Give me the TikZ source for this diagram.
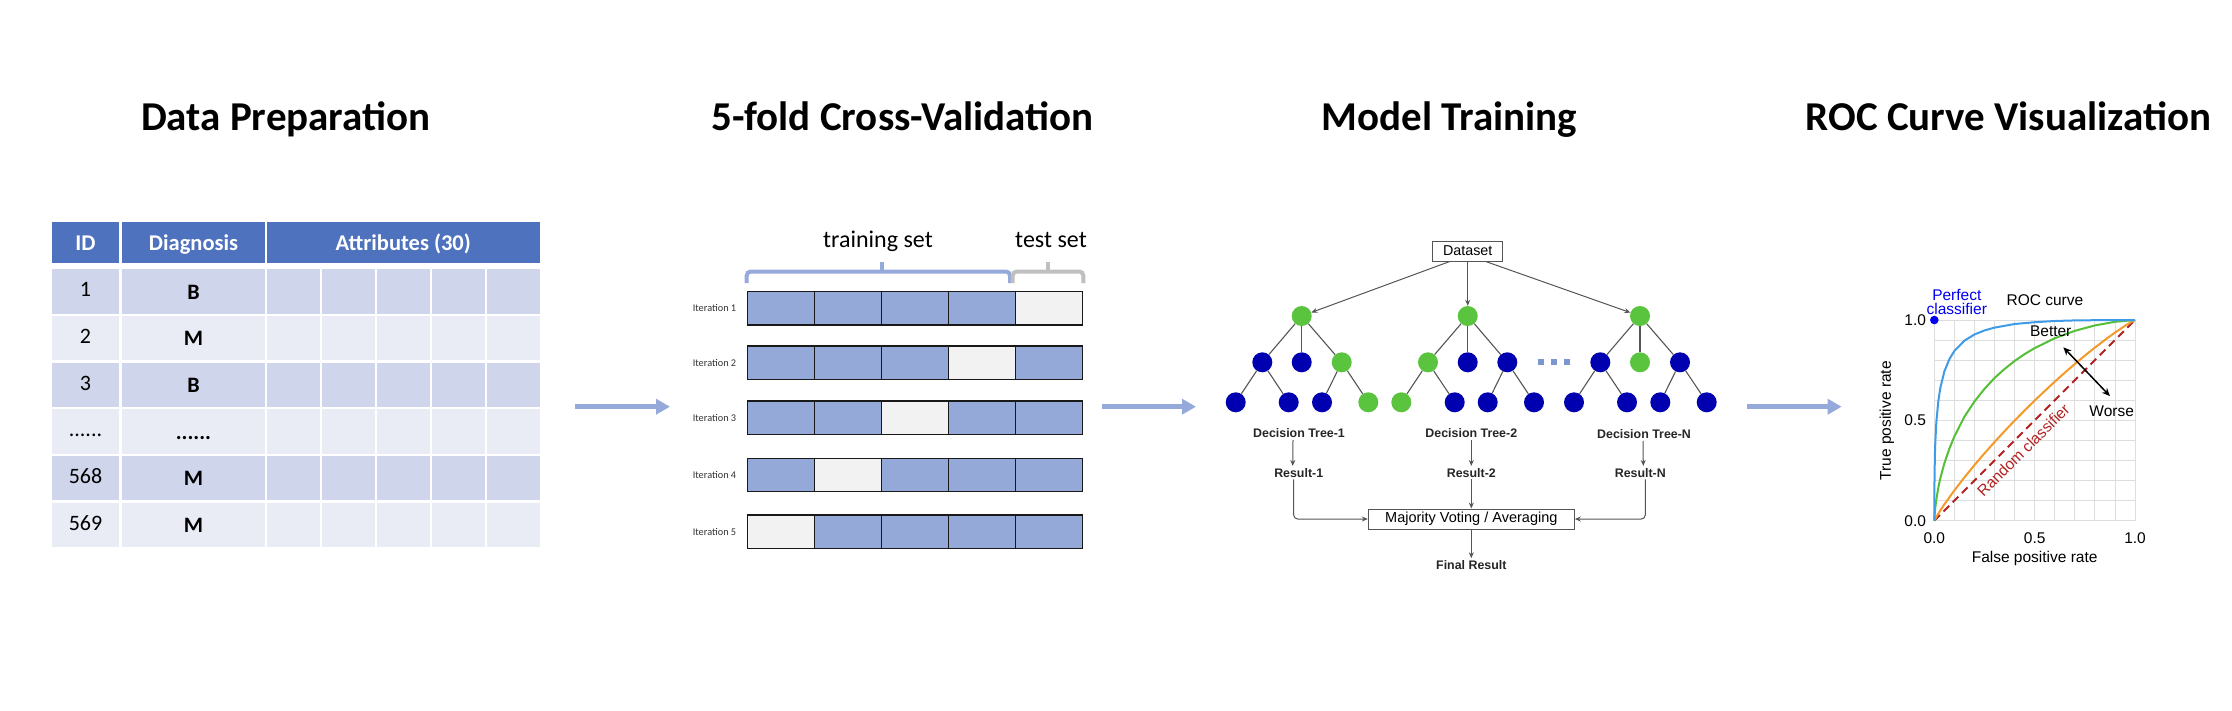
\documentclass[tikz,border=0pt]{standalone}
\usepackage{fontspec}
\setmainfont{Carlito}
\newfontfamily\arialfont{Liberation Sans}
\usetikzlibrary{arrows.meta}
\definecolor{hdrblue}{HTML}{4F72BE}
\definecolor{rowdark}{HTML}{CFD5EA}
\definecolor{rowlight}{HTML}{E9EBF5}
\definecolor{cvblue}{HTML}{95A9D8}
\definecolor{cvgray}{HTML}{F2F2F2}
\definecolor{flowblue}{HTML}{95AADB}
\definecolor{bracegray}{HTML}{BFBFBF}
\definecolor{treegreen}{HTML}{5BC43F}
\definecolor{treeblue}{HTML}{0000B0}
\definecolor{dotblue}{HTML}{7C96CF}
\definecolor{edgegray}{HTML}{555555}
\definecolor{gridgray}{HTML}{DDDDDD}
\definecolor{rocblue}{HTML}{3F9BE8}
\definecolor{rocgreen}{HTML}{55BF38}
\definecolor{rocorange}{HTML}{F39A2B}
\definecolor{rocred}{HTML}{B22222}
\definecolor{perfblue}{HTML}{0000F0}
\newcommand{\sixdots}{......}
\begin{document}
\begin{tikzpicture}[x=1pt,y=-1pt,
  paneltitle/.style={font=\fontsize{41}{48}\selectfont\bfseries, anchor=base, inner sep=0pt},
  hdrtext/.style={font=\fontsize{22.5}{27}\selectfont\bfseries, text=white, anchor=base, inner sep=0pt},
  idtext/.style={font=\fontsize{22}{26}\selectfont, anchor=base, inner sep=0pt},
  dgtext/.style={font=\fontsize{22}{26}\selectfont\bfseries, anchor=base, inner sep=0pt},
  settext/.style={font=\fontsize{24}{28}\selectfont, anchor=base, inner sep=0pt},
  itlabel/.style={font=\fontsize{10.3}{12}\selectfont, text=black!80, inner sep=0pt},
  flowarrow/.style={draw=flowblue, line width=5pt, -{Triangle[length=14pt,width=15pt]}},
  gn/.style={circle, fill=treegreen, minimum size=20pt, inner sep=0pt},
  bn/.style={circle, fill=treeblue, minimum size=20pt, inner sep=0pt},
  treeedge/.style={draw=edgegray, line width=1.1pt},
  conn/.style={draw=edgegray, line width=1pt, -{Stealth[length=6pt,width=5pt]}},
  boxnode/.style={draw=edgegray, line width=1pt, font=\arialfont\fontsize{14.3}{17}\selectfont, inner sep=0pt},
  treelabel/.style={font=\arialfont\fontsize{12.4}{15}\selectfont\bfseries, text=black!85, inner sep=2pt},
  roctext/.style={font=\arialfont\fontsize{15.5}{18}\selectfont, inner sep=0pt},
  dotsq/.style={fill=dotblue, minimum size=6pt, inner sep=0pt}
]
\useasboundingbox (0,0) rectangle (2232,710);
\fill[white] (0,0) rectangle (2232,710);

% ---------- titles ----------
\node[paneltitle] (ttl1) at (285.8,130) {Data Preparation};
\node[paneltitle] (ttl2) at (902.5,130) {5-fold Cross-Validation};
\node[paneltitle] (ttl3) at (1449.5,130) {Model Training};
\node[paneltitle] (ttl4) at (2008.5,130) {ROC Curve Visualization};

% ---------- table ----------
\fill[hdrblue] (51.7,221.7) rectangle (119.3,262.7);
\fill[hdrblue] (121.7,221.7) rectangle (265.3,262.7);
\fill[hdrblue] (266.7,221.7) rectangle (540,262.7);
\node[hdrtext] (hid) at (85.5,250.7) {ID};
\node[hdrtext] (hdg) at (193.5,250.7) {Diagnosis};
\node[hdrtext] (hat) at (403.3,250.7) {Attributes (30)};
\foreach \k/\rc in {0/rowdark,1/rowlight,2/rowdark,3/rowlight,4/rowdark,5/rowlight}{
  \pgfmathsetmacro\rowy{269.3+46.67*\k}
  \fill[\rc] (51.7,\rowy) rectangle (119.3,\rowy+44.3);
  \fill[\rc] (121.7,\rowy) rectangle (265.3,\rowy+44.3);
  \foreach \xa/\xb in {266.7/320,322.3/375,377.3/430,432.3/485,487.3/540}{
    \fill[\rc] (\xa,\rowy) rectangle (\xb,\rowy+44.3);
  }
}
\foreach \k/\idt/\dgt in {0/1/B,1/2/M,2/3/B,3/\sixdots/\sixdots,4/568/M,5/569/M}{
  \node[idtext] (id\k) at (85.5,{296.7+46.67*\k}) {\idt};
  \node[dgtext] (dg\k) at (193.5,{299+46.67*\k}) {\dgt};
}

% ---------- flow arrows ----------
\coordinate (f1s) at (575,406.7);  \coordinate (f1e) at (670,406.7);
\coordinate (f2s) at (1102,406.7); \coordinate (f2e) at (1196,406.7);
\coordinate (f3s) at (1747.3,406.7); \coordinate (f3e) at (1841.7,406.7);
\draw[flowarrow] (f1s) -- (f1e);
\draw[flowarrow] (f2s) -- (f2e);
\draw[flowarrow] (f3s) -- (f3e);

% ---------- cross-validation ----------
\node[settext] (trs) at (878,247.3) {training set};
\node[settext] (tss) at (1051,247.3) {test set};
\draw[flowblue, line width=4pt, rounded corners=4pt] (746.7,283) |- (1010,271.5) -- (1010,283);
\draw[flowblue, line width=4pt] (882.3,272) -- (882.3,261.7);
\draw[bracegray, line width=4pt, rounded corners=4pt] (1012.7,283) |- (1083.3,271.5) -- (1083.3,283);
\draw[bracegray, line width=4pt] (1048.3,272) -- (1048.3,261.7);
\foreach \k/\g/\yy in {1/5/291.7,2/4/346,3/3/401,4/2/458.3,5/1/515}{
  \foreach \c in {1,...,5}{
    \ifnum\c=\g\relax\def\cellcol{cvgray}\else\def\cellcol{cvblue}\fi
    \filldraw[fill=\cellcol, draw=black!90, line width=1.3pt] ({747.7+66.92*(\c-1)},\yy) rectangle ++(66.92,33.3);
  }
  \node[itlabel] (it\k) at (714.5,{\yy+16.65}) {Iteration \k};
}

% ---------- random forest ----------
\node[boxnode, minimum width=70pt, minimum height=20pt] (ds) at (1467.7,251) {Dataset};
% tree 1
\node[gn] (t1) at (1301.7,316) {};
\node[bn] (t1a) at (1262.3,362.3) {};
\node[bn] (t1b) at (1301.7,362.3) {};
\node[gn] (t1c) at (1341.7,362.3) {};
\node[bn] (t1aa) at (1235.7,402.3) {};
\node[bn] (t1ab) at (1288.7,402.3) {};
\node[bn] (t1ca) at (1322,402.3) {};
\node[gn] (t1cb) at (1368.3,402.3) {};
% tree 2
\node[gn] (t2) at (1467.7,316) {};
\node[gn] (t2a) at (1428,362.3) {};
\node[bn] (t2b) at (1467.7,362.3) {};
\node[bn] (t2c) at (1507.3,362.3) {};
\node[gn] (t2aa) at (1401.3,402.3) {};
\node[bn] (t2ab) at (1454.7,402.3) {};
\node[bn] (t2ca) at (1487.7,402.3) {};
\node[bn] (t2cb) at (1534,402.3) {};
% tree N
\node[gn] (tn) at (1640,316) {};
\node[bn] (tna) at (1600.3,362.3) {};
\node[gn] (tnb) at (1640,362.3) {};
\node[bn] (tnc) at (1680,362.3) {};
\node[bn] (tnaa) at (1574,402.3) {};
\node[bn] (tnab) at (1627,402.3) {};
\node[bn] (tnca) at (1660.3,402.3) {};
\node[bn] (tncb) at (1706.7,402.3) {};
\foreach \t in {t1,t2,tn}{
  \draw[treeedge] (\t) -- (\t a);
  \draw[treeedge] (\t) -- (\t b);
  \draw[treeedge] (\t) -- (\t c);
  \draw[treeedge] (\t a) -- (\t aa);
  \draw[treeedge] (\t a) -- (\t ab);
  \draw[treeedge] (\t c) -- (\t ca);
  \draw[treeedge] (\t c) -- (\t cb);
}
\node[dotsq] (dq1) at (1540.7,361.7) {};
\node[dotsq] (dq2) at (1554,361.7) {};
\node[dotsq] (dq3) at (1567.3,361.7) {};
\draw[conn] ([xshift=-18pt]ds.south) -- (t1);
\draw[conn] (ds.south) -- (t2);
\draw[conn] ([xshift=18pt]ds.south) -- (tn);
\node[treelabel] (dt1) at (1299,433.3) {Decision Tree-1};
\node[treelabel] (dt2) at (1471.3,433.3) {Decision Tree-2};
\node[treelabel] (dtn) at (1644,434) {Decision Tree-N};
\node[treelabel] (res1) at (1298.7,472.7) {Result-1};
\node[treelabel] (res2) at (1471.3,472.7) {Result-2};
\node[treelabel] (resn) at (1640.3,472.7) {Result-N};
\node[boxnode, minimum width=206pt, minimum height=20pt, font=\arialfont\fontsize{14.5}{17}\selectfont] (mv) at (1471.3,519) {Majority Voting / Averaging};
\node[treelabel] (final) at (1471.3,565) {Final Result};
\draw[conn] ([xshift=-6pt]dt1.south) -- ([xshift=-6pt]res1.north);
\draw[conn] (dt2.south) -- (res2.north);
\draw[conn] ([xshift=-1pt]dtn.south) -- ([xshift=3pt]resn.north);
\draw[conn, rounded corners=4pt] ([xshift=-5pt]res1.south) |- (mv.west);
\draw[conn] (res2.south) -- (mv.north);
\draw[conn, rounded corners=4pt] ([xshift=5pt]resn.south) |- (mv.east);
\draw[conn] (mv.south) -- (final.north);

% ---------- ROC ----------
\coordinate (roco) at (1934.3,520.7);
\begin{scope}[shift={(roco)}, x={(200.7pt,0pt)}, y={(0pt,200.7pt)}]
  \foreach \i in {0,...,10}{
    \draw[gridgray, line width=0.8pt] (\i/10,0) -- (\i/10,1);
    \draw[gridgray, line width=0.8pt] (0,\i/10) -- (1,\i/10);
  }
  \draw[rocred, line width=2pt, dash pattern=on 8pt off 5pt] (0,0) -- (1,1);
  \draw[rocorange, line width=2pt, line join=round] plot coordinates {(0,0) (0.01,0.0189) (0.02,0.0356) (0.05,0.0815) (0.1,0.1511) (0.15,0.2159) (0.2,0.2771) (0.25,0.3356) (0.3,0.3919) (0.35,0.4462) (0.4,0.4987) (0.45,0.5495) (0.5,0.5987) (0.55,0.6464) (0.6,0.6926) (0.65,0.7374) (0.7,0.7807) (0.75,0.8224) (0.8,0.8625) (0.85,0.9008) (0.9,0.9372) (0.95,0.9710) (0.98,0.9894) (1,1)};
  \draw[rocgreen, line width=2pt, line join=round] plot coordinates {(0,0) (0.001,0.022) (0.005,0.067) (0.01,0.106) (0.02,0.165) (0.03,0.212) (0.05,0.286) (0.075,0.359) (0.1,0.420) (0.15,0.518) (0.2,0.594) (0.25,0.657) (0.3,0.711) (0.35,0.756) (0.4,0.796) (0.45,0.830) (0.5,0.860) (0.6,0.909) (0.7,0.946) (0.8,0.973) (0.9,0.991) (1,1)};
  \draw[rocblue, line width=2pt, line join=round] plot coordinates {(0,0) (0,0.04) (0.0001,0.078) (0.001,0.215) (0.003,0.33) (0.005,0.391) (0.01,0.49) (0.02,0.597) (0.03,0.662) (0.05,0.744) (0.075,0.805) (0.1,0.846) (0.15,0.897) (0.2,0.928) (0.25,0.948) (0.3,0.962) (0.4,0.980) (0.5,0.989) (0.6,0.995) (0.7,0.998) (0.8,0.999) (1,1)};
  \fill[perfblue] (0,1) circle[radius=4.3pt];
  \node[roctext, text=perfblue, align=center, font=\arialfont\fontsize{15.5}{13.5}\selectfont] (perf) at (0.112,1.091) {Perfect\\classifier};
  \node[roctext] (roclbl) at (0.551,1.097) {ROC curve};
  \node[roctext] (better) at (0.58,0.944) {Better};
  \node[roctext] (worse) at (0.884,0.543) {Worse};
  \coordinate (bw1) at (0.643,0.864);
  \coordinate (bw2) at (0.875,0.621);
  \draw[line width=1.5pt, {Stealth[length=8pt,width=7pt]}-{Stealth[length=8pt,width=7pt]}] (bw1) -- (bw2);
  \node[roctext, text=rocred, rotate=45] (rand) at (0.443,0.352) {Random classifier};
  \node[roctext] (y10) at (-0.095,1) {1.0};
  \node[roctext] (y05) at (-0.095,0.5) {0.5};
  \node[roctext] (y00) at (-0.095,0) {0.0};
  \node[roctext] (x00) at (0,-0.088) {0.0};
  \node[roctext] (x05) at (0.5,-0.088) {0.5};
  \node[roctext] (x10) at (1,-0.088) {1.0};
  \node[roctext] (xlab) at (0.5,-0.187) {False positive rate};
  \node[roctext, rotate=90] (ylab) at (-0.237,0.498) {True positive rate};
\end{scope}
\end{tikzpicture}
\end{document}
